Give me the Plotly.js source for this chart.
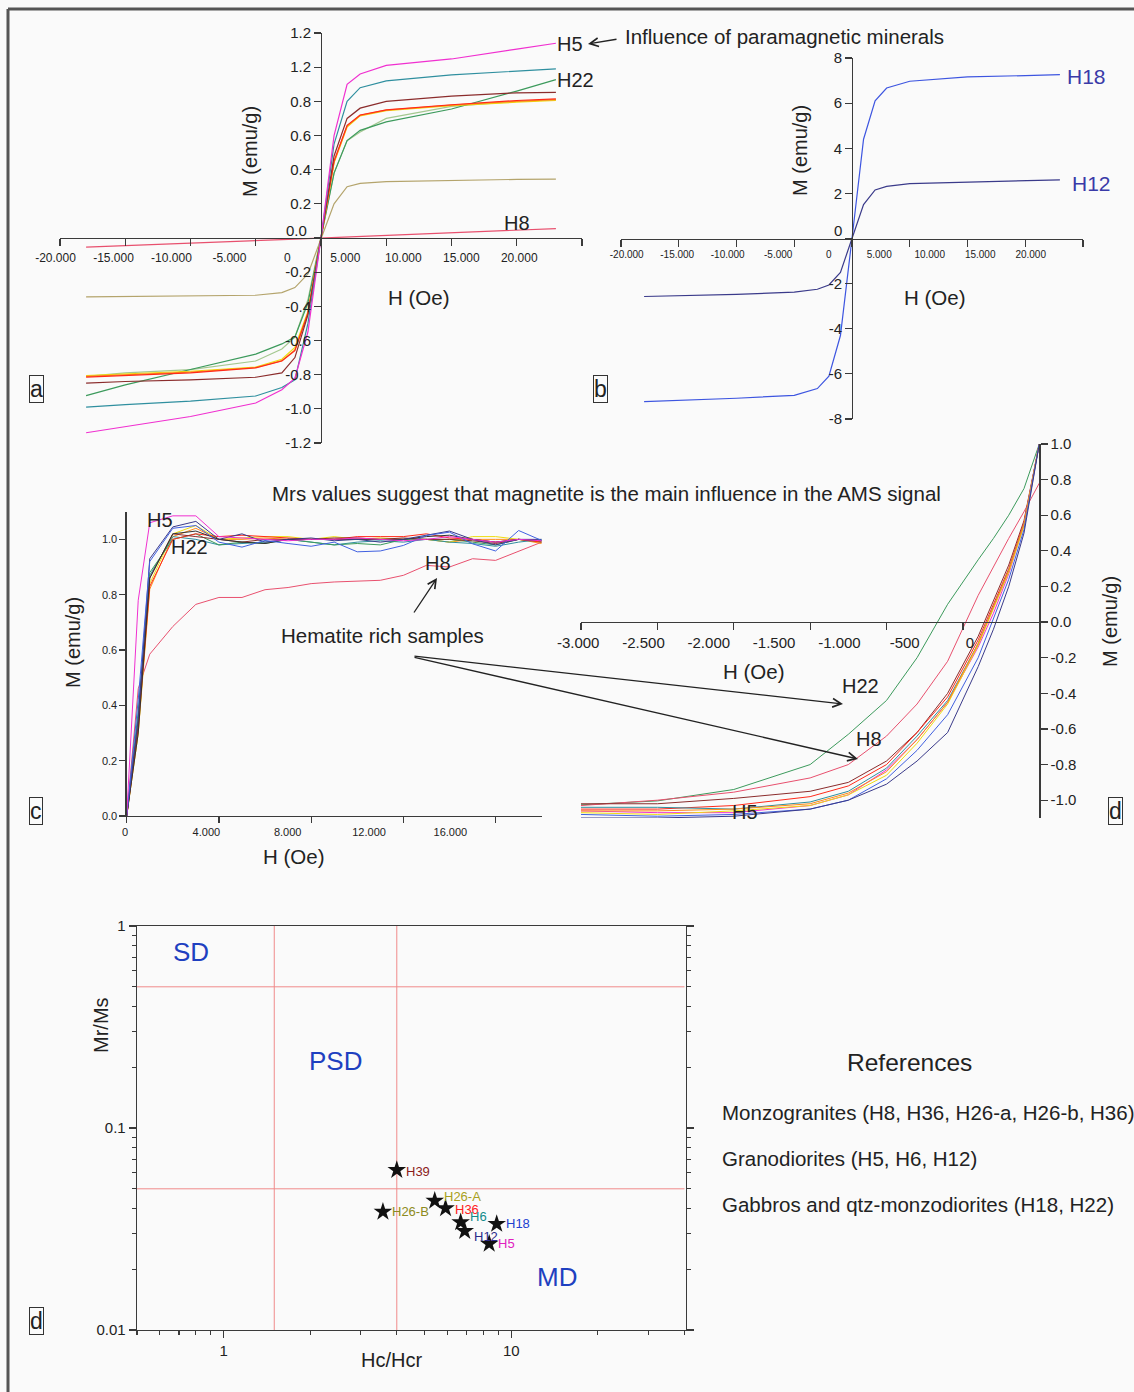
<!DOCTYPE html>
<html><head><meta charset="utf-8">
<script src="https://cdn.plot.ly/plotly-3.0.1.min.js"></script>
<style>html,body{margin:0;padding:0;background:#fafafa;}#chart{width:1134px;height:1392px;}</style>
</head><body><div id="chart"></div>
<script>
// ---------------- DATA ----------------
// Panel a: hysteresis loops (M emu/g vs H Oe)
const hA = [-18000,-15000,-10000,-5000,-3000,-2000,-1000,0,1000,2000,3000,5000,10000,15000,18000];
const aH5     = [-1.14,-1.105,-1.045,-0.966,-0.888,-0.82,-0.55,0,0.60,0.90,0.96,1.01,1.048,1.106,1.14];
const aTeal   = [-0.99,-0.975,-0.955,-0.925,-0.875,-0.83,-0.50,0,0.55,0.80,0.88,0.92,0.955,0.975,0.99];
const aBrown  = [-0.849,-0.84,-0.83,-0.815,-0.79,-0.70,-0.45,0,0.48,0.70,0.76,0.80,0.83,0.85,0.853];
const aRed    = [-0.814,-0.805,-0.79,-0.76,-0.72,-0.66,-0.44,0,0.45,0.66,0.72,0.75,0.78,0.805,0.814];
const aOrange = [-0.81,-0.80,-0.785,-0.758,-0.718,-0.655,-0.44,0,0.445,0.655,0.718,0.748,0.778,0.80,0.81];
const aYellow = [-0.805,-0.795,-0.78,-0.755,-0.71,-0.64,-0.43,0,0.44,0.65,0.715,0.745,0.775,0.795,0.805];
const aLtGreen= [-0.81,-0.79,-0.77,-0.72,-0.65,-0.58,-0.36,0,0.38,0.57,0.62,0.70,0.77,0.80,0.81];
const aH22    = [-0.923,-0.86,-0.77,-0.68,-0.62,-0.58,-0.38,0,0.38,0.57,0.63,0.68,0.755,0.86,0.927];
const aKhaki  = [-0.345,-0.343,-0.34,-0.335,-0.32,-0.29,-0.21,0,0.20,0.30,0.32,0.33,0.338,0.343,0.345];
const aH8     = [-0.053,-0.045,-0.03,-0.015,-0.009,-0.006,-0.003,0,0.003,0.006,0.009,0.015,0.03,0.046,0.055];
const xTicksA = [-20000,-15000,-10000,-5000,0,5000,10000,15000,20000];
const xLabelsA = ['-20.000','-15.000','-10.000','-5.000','0','5.000','10.000','15.000','20.000'];
const yTicksA = [1.2,1.0,0.8,0.6,0.4,0.2,0,-0.2,-0.4,-0.6,-0.8,-1.0,-1.2];
const yLabelsA = ['1.2','1.2','0.8','0.6','0.4','0.2','','-0.2','-0.4','-0.6','-0.8','-1.0','-1.2'];

// Panel b
const bH18 = [-7.23,-7.18,-7.08,-6.95,-6.65,-6.1,-4.3,0,4.4,6.1,6.67,6.97,7.16,7.22,7.26];
const bH12 = [-2.57,-2.54,-2.48,-2.38,-2.25,-2.06,-1.5,0,1.5,2.15,2.31,2.43,2.50,2.56,2.60];
const yTicksB = [8,6,4,2,0,-2,-4,-6,-8];
const yLabelsB = ['8','6','4','2','','-2','-4','-6','-8'];

// Panel c: normalised curves
const hC = [0,500,1000,2000,3000,4000,5000,6000,7000,8000,9000,10000,11000,12000,13000,14000,15000,16000,17000,18000];
const cH8    = [0,0.46,0.585,0.685,0.765,0.79,0.79,0.818,0.826,0.84,0.846,0.85,0.852,0.87,0.906,0.9,0.93,0.924,0.958,0.99];
const cBlue  = [0,0.42,0.92,1.04,1.05,0.99,0.972,0.996,0.985,0.975,0.99,0.955,0.958,0.978,1.014,1.026,0.984,0.958,1.032,0.996];
const cNavy  = [0,0.35,0.93,1.045,1.065,1.0,1.02,0.99,1.0,1.005,0.995,1.0,0.99,1.0,1.015,1.03,1.0,0.98,1.0,1.0];
const cBlack = [0,0.30,0.86,1.02,1.03,1.0,0.99,0.985,1.0,1.0,1.0,1.0,1.0,1.0,1.01,1.015,1.0,0.99,1.0,0.995];
const cRed   = [0,0.32,0.83,1.0,1.02,1.01,1.015,1.01,1.005,1.0,1.0,1.01,1.01,1.01,1.02,1.005,1.0,0.99,1.0,0.99];
const cGreen = [0,0.36,0.88,1.0,1.02,0.98,0.99,0.985,1.0,0.99,0.98,0.985,0.98,1.0,1.0,1.0,0.99,0.98,1.0,0.99];
const cTeal  = [0,0.38,0.87,1.01,1.0,0.98,0.985,0.99,1.0,0.99,0.98,0.99,0.995,0.99,1.0,0.99,0.985,0.975,0.99,1.0];
const cYellow= [0,0.30,0.84,1.02,1.05,1.0,1.005,1.01,1.01,1.0,1.01,1.0,1.005,1.0,1.0,0.99,1.01,1.01,1.0,0.99];
const cOrange= [0,0.30,0.82,1.01,1.04,1.0,1.0,1.005,1.0,1.0,1.0,1.0,1.0,1.0,1.0,0.99,1.0,1.0,1.0,0.985];
const cBrown = [0,0.33,0.86,1.02,1.01,1.0,0.99,1.0,1.0,1.0,1.005,1.005,1.0,1.005,1.0,1.0,0.995,0.985,1.0,0.995];
const cH5    = [0,0.78,1.06,1.085,1.085,1.01,1.005,1.0,0.995,1.0,1.0,1.005,1.0,0.995,1.0,1.01,1.0,0.99,1.0,0.995];
const xTicksC = [0,4000,8000,12000,16000];
const xLabelsC = ['0','4.000','8.000','12.000','16.000'];
const yTicksC = [0,0.2,0.4,0.6,0.8,1.0];
const yLabelsC = ['0.0','0.2','0.4','0.6','0.8','1.0'];

// Panel d: back-field curves
const hD = [-3000,-2500,-2000,-1500,-1250,-1000,-800,-600,-400,-300,-200,-100,0];
const dH22   = [-1.026,-1.004,-0.94,-0.80,-0.63,-0.44,-0.20,0.10,0.35,0.47,0.60,0.75,1.0];
const dH8    = [-1.03,-1.0,-0.955,-0.875,-0.80,-0.64,-0.46,-0.22,0.15,0.31,0.47,0.62,0.78];
const dBrown = [-1.02,-1.02,-0.99,-0.95,-0.90,-0.78,-0.62,-0.40,-0.08,0.12,0.32,0.57,1.0];
const dRed   = [-1.05,-1.05,-1.03,-0.98,-0.92,-0.80,-0.62,-0.42,-0.10,0.10,0.30,0.56,1.0];
const dH5    = [-1.06,-1.07,-1.07,-1.03,-0.97,-0.83,-0.66,-0.45,-0.14,0.05,0.27,0.55,1.0];
const dTeal  = [-1.04,-1.04,-1.05,-1.01,-0.95,-0.82,-0.64,-0.44,-0.12,0.08,0.29,0.55,1.0];
const dYellow= [-1.07,-1.08,-1.06,-1.03,-0.97,-0.86,-0.68,-0.46,-0.13,0.07,0.28,0.54,1.0];
const dOrange= [-1.06,-1.06,-1.05,-1.02,-0.96,-0.84,-0.66,-0.45,-0.12,0.08,0.29,0.55,1.0];
const dBlue  = [-1.08,-1.09,-1.08,-1.05,-1.0,-0.88,-0.72,-0.52,-0.20,0.02,0.24,0.52,1.0];
const dNavy  = [-1.10,-1.10,-1.09,-1.05,-1.0,-0.91,-0.78,-0.62,-0.25,-0.04,0.20,0.50,1.0];
const xTicksD = [-3000,-2500,-2000,-1500,-1000,-500,0];
const xLabelsD = ['-3.000','-2.500','-2.000','-1.500','-1.000','-500','0'];
const yTicksD = [1.0,0.8,0.6,0.4,0.2,0,-0.2,-0.4,-0.6,-0.8,-1.0];
const yLabelsD = ['1.0','0.8','0.6','0.4','0.2','0.0','-0.2','-0.4','-0.6','-0.8','-1.0'];

// Day plot
const dayNames = ['H39','H26-A','H26-B','H36','H6','H12','H18','H5'];
const dayHc = [4.0,5.42,3.58,5.91,6.67,6.89,8.9,8.38];
const dayMr = [0.0619,0.0436,0.0385,0.040,0.0341,0.0309,0.0335,0.0267];
const dayColors = ['#8b1a1a','#a8a020','#8c8a20','#ff2020','#108a8a','#2a2a8a','#2040d0','#e020c0'];
const dayLabelShift = [-1,4,0,-1,6,-5,0,0];
const dayXBounds = [1.5,4];
const dayYBounds = [0.5,0.05];
const dayXRange = [0.5,40];
const dayYRange = [0.01,1];

// ---------------- LAYOUT HELPERS ----------------
const W=1134, H=1392;
const FONT='Liberation Sans, Arial, Helvetica, sans-serif';
const INK='#222', AX='#3a3a3a';
const COL={H5:'#f030d0',teal:'#2f8f9f',brown:'#8b2c2c',red:'#ff2a1a',orange:'#ff8c1a',yellow:'#eedc10',
  ltgreen:'#a4c890',green:'#3c9a5c',khaki:'#b4a46c',H8:'#e8506e',blue:'#4060e0',navy:'#3a3a8a',black:'#333333'};
const domX=(a,b)=>[a/W,b/W];
const domY=(top,bot)=>[1-bot/H,1-top/H];
const at=(dom,range,v)=>dom[0]+(v-range[0])/(range[1]-range[0])*(dom[1]-dom[0]);

function dataAxis(extra){
  return Object.assign({showline:true,linecolor:AX,linewidth:1.3,ticks:'outside',ticklen:7,tickcolor:AX,tickwidth:1.2,
    showgrid:false,zeroline:false,fixedrange:true,tickfont:{family:FONT,size:15,color:INK}},extra);
}
function labelAxis(pxL,pxR,zeroPx,pxPerUnit,tickvals,ticktext,size,len,extra){
  return Object.assign({domain:domX(pxL,pxR),range:[(pxL-zeroPx)/pxPerUnit,(pxR-zeroPx)/pxPerUnit],
    tickmode:'array',tickvals:tickvals,ticktext:ticktext,ticks:'outside',ticklen:len,tickcolor:'rgba(0,0,0,0)',
    showline:false,showgrid:false,zeroline:false,fixedrange:true,tickfont:{family:FONT,size:size,color:INK}},extra);
}
function line(x,y,color,xa,ya,w){
  return {type:'scatter',mode:'lines',x:x,y:y,xaxis:xa,yaxis:ya,line:{color:color,width:w||1.1},
    showlegend:false,hoverinfo:'skip'};
}
function dummy(xa,ya){return {type:'scatter',mode:'markers',x:[],y:[],xaxis:xa,yaxis:ya,showlegend:false,hoverinfo:'skip'};}

// Panel geometry
const xDomA=domX(60,582), xRangeA=[-20000,20000], yDomA=domY(33,443), yRangeA=[-1.2,1.2];
const xDomB=domX(621,1083), xRangeB=[-20000,20000], yDomB=domY(58,419), yRangeB=[-8,8];
const xDomC=domX(126.7,541.7), xRangeC=[0,18000], yDomC=domY(511.7,816), yRangeC=[0,1.1];
const xDomD=domX(581,1045.7), xRangeD=[-3000,42], yDomD=domY(444,818), yRangeD=[-1.1,1.0];
const xDomE=domX(137,686), yDomE=domY(926,1330);

const posXA=at(yDomA,yRangeA,0), posYA=at(xDomA,xRangeA,0);
const posXB=at(yDomB,yRangeB,0), posYB=at(xDomB,xRangeB,0);
const posXD=at(yDomD,yRangeD,0), posYD=at(xDomD,xRangeD,0);

const traces=[];
// Panel a
[[aH8,COL.H8],[aKhaki,COL.khaki],[aLtGreen,COL.ltgreen],[aH22,COL.green],[aYellow,COL.yellow],[aOrange,COL.orange],
 [aRed,COL.red],[aBrown,COL.brown],[aTeal,COL.teal],[aH5,COL.H5]].forEach(s=>traces.push(line(hA,s[0],s[1],'x','y',1.2)));
traces.push(dummy('x2','y'));
// Panel b
traces.push(line(hA,bH12,COL.navy,'x3','y2',1.2));
traces.push(line(hA,bH18,'#3d55e0','x3','y2',1.2));
traces.push(dummy('x4','y2'));
// Panel c
[[cH8,COL.H8],[cOrange,COL.orange],[cYellow,COL.yellow],[cTeal,COL.teal],[cGreen,COL.green],[cRed,COL.red],
 [cBrown,COL.brown],[cBlack,COL.black],[cNavy,COL.navy],[cBlue,COL.blue],[cH5,COL.H5]].forEach(s=>traces.push(line(hC,s[0],s[1],'x5','y3',1)));
traces.push(dummy('x6','y3'));
// Panel d
[[dH22,COL.green],[dH8,COL.H8],[dBrown,COL.brown],[dRed,COL.red],[dH5,COL.H5],[dTeal,COL.teal],[dYellow,COL.yellow],
 [dOrange,COL.orange],[dBlue,COL.blue],[dNavy,COL.navy]].forEach(s=>traces.push(line(hD,s[0],s[1],'x7','y4',1)));
traces.push(dummy('x8','y4'));
// Day plot
dayXBounds.forEach(v=>traces.push(line([v,v],dayYRange,'#f08a8a','x9','y5',1)));
dayYBounds.forEach(v=>traces.push(line(dayXRange,[v,v],'#f08a8a','x9','y5',1)));
traces.push({type:'scatter',mode:'markers',x:dayHc,y:dayMr,marker:{symbol:'star',size:14,color:'#111'},
  xaxis:'x9',yaxis:'y5',showlegend:false,hoverinfo:'skip',cliponaxis:false});

// ---------------- ANNOTATIONS ----------------
const ann=[];
function txt(x,y,t,size,color,o){ann.push(Object.assign({xref:'paper',yref:'paper',x:x/W,y:1-y/H,text:t,showarrow:false,
  xanchor:'center',yanchor:'middle',font:{family:FONT,size:size,color:color||INK}},o||{}));}
function arrow(tx,ty,hx,hy){ann.push({xref:'paper',yref:'paper',x:hx/W,y:1-hy/H,ax:tx-hx,ay:ty-hy,text:'',showarrow:true,
  arrowhead:5,arrowsize:1.3,arrowwidth:1.3,arrowcolor:INK,standoff:0,startstandoff:0});}
function box(x,y,t){txt(x,y,t,23,INK,{bordercolor:'#333',borderwidth:1,borderpad:0});}

// star labels (log axes: annotation coords are log10 of data)
dayNames.forEach((n,i)=>ann.push({xref:'x9',yref:'y5',x:Math.log10(dayHc[i]),y:Math.log10(dayMr[i]),text:n,showarrow:false,
  xanchor:'left',yanchor:'middle',xshift:7,yshift:dayLabelShift[i],font:{family:FONT,size:13,color:dayColors[i]}}));

// panel a
txt(570,44,'H5',20); txt(575,80,'H22',20); txt(517,223,'H8',20);
txt(784,37,'Influence of paramagnetic minerals',20.5);
arrow(618,39,588,44);
txt(296,230,'0.0',15);
txt(250,152,'M (emu/g)',20,INK,{textangle:-90}); txt(419,297,'H (Oe)',20.5);
box(36,389,'a');
// panel b
txt(838,230,'0',15);
txt(1086,76,'H18',21,'#3a3aa8'); txt(1091,183,'H12',21,'#3a3aa8');
txt(800,151,'M (emu/g)',20,INK,{textangle:-90}); txt(935,297,'H (Oe)',20.5);
box(600,389,'b');
// middle
txt(606,493,'Mrs values suggest that magnetite is the main influence in the AMS signal',20.5);
txt(160,520,'H5',20); txt(189,547,'H22',20); txt(438,563,'H8',20);
arrow(413,614,437,578);
txt(382,635,'Hematite rich samples',20.5);
arrow(413,656,843,704); arrow(413,657,858,759);
txt(73,643,'M (emu/g)',20,INK,{textangle:-90}); txt(294,857,'H (Oe)',20.5);
box(36,811,'c');
txt(860,686,'H22',20); txt(869,739,'H8',20); txt(745,812,'H5',20);
txt(754,671,'H (Oe)',20.5); txt(1110,622,'M (emu/g)',20,INK,{textangle:-90});
box(1115,811,'d');
// day plot
txt(191,952,'SD',26,'#1e40c0'); txt(335,1061,'PSD',26,'#1e40c0'); txt(557,1277,'MD',26,'#1e40c0');
txt(101,1025,'Mr/Ms',20,INK,{textangle:-90}); txt(391,1360,'Hc/Hcr',20);
box(36,1321,'d');
txt(909,1062,'References',24.5);
txt(720,1112,'Monzogranites (H8, H36, H26-a, H26-b, H36)',20.5,INK,{xanchor:'left'});
txt(720,1158,'Granodiorites (H5, H6, H12)',20.5,INK,{xanchor:'left'});
txt(720,1204,'Gabbros and qtz-monzodiorites (H18, H22)',20.5,INK,{xanchor:'left'});

// ---------------- LAYOUT ----------------
const layout={
  width:W,height:H,autosize:false,margin:{l:0,r:0,t:0,b:0},
  paper_bgcolor:'#fafafa',plot_bgcolor:'rgba(0,0,0,0)',font:{family:FONT,color:INK},showlegend:false,
  // a
  xaxis:dataAxis({domain:xDomA,range:xRangeA,anchor:'free',position:posXA,tickmode:'array',tickvals:xTicksA,showticklabels:false}),
  yaxis:dataAxis({domain:yDomA,range:yRangeA,anchor:'free',position:posYA,tickmode:'array',tickvals:yTicksA,ticktext:yLabelsA}),
  xaxis2:labelAxis(20,600,287.4,57.97/5000,xTicksA,xLabelsA,12,9,{anchor:'free',position:posXA}),
  // b
  xaxis3:dataAxis({domain:xDomB,range:xRangeB,anchor:'free',position:posXB,tickmode:'array',tickvals:xTicksA,showticklabels:false}),
  yaxis2:dataAxis({domain:yDomB,range:yRangeB,anchor:'free',position:posYB,tickmode:'array',tickvals:yTicksB,ticktext:yLabelsB}),
  xaxis4:labelAxis(595,1105,828.7,50.5/5000,xTicksA,xLabelsA,10,6,{anchor:'free',position:posXB}),
  // c
  xaxis5:dataAxis({domain:xDomC,range:xRangeC,anchor:'y3',tickmode:'array',tickvals:xTicksC,showticklabels:false,ticklen:6}),
  yaxis3:dataAxis({domain:yDomC,range:yRangeC,anchor:'x5',tickmode:'array',tickvals:yTicksC,ticktext:yLabelsC,ticklen:6,tickfont:{family:FONT,size:11,color:INK}}),
  xaxis6:labelAxis(100,560,125,81.35/4000,xTicksC,xLabelsC,11,6,{anchor:'y3'}),
  // d
  xaxis7:dataAxis({domain:xDomD,range:xRangeD,anchor:'free',position:posXD,tickmode:'array',tickvals:xTicksD,showticklabels:false}),
  yaxis4:dataAxis({domain:yDomD,range:yRangeD,anchor:'free',position:posYD,side:'right',tickmode:'array',tickvals:yTicksD,ticktext:yLabelsD}),
  xaxis8:labelAxis(545,1010,970,65.3/500,xTicksD,xLabelsD,15,7,{anchor:'free',position:posXD}),
  // day plot
  xaxis9:dataAxis({domain:xDomE,type:'log',range:[Math.log10(dayXRange[0]),Math.log10(40.5)],anchor:'y5',dtick:1,mirror:true,
    tickfont:{family:FONT,size:15,color:INK},minor:{dtick:'D1',ticks:'outside',ticklen:4,tickcolor:AX,showgrid:false}}),
  yaxis5:dataAxis({domain:yDomE,type:'log',range:[Math.log10(dayYRange[0]),Math.log10(dayYRange[1])],anchor:'x9',dtick:1,mirror:'ticks',
    tickfont:{family:FONT,size:15,color:INK},minor:{dtick:'D1',ticks:'outside',ticklen:4,tickcolor:AX,showgrid:false}}),
  annotations:ann,
  shapes:[
    {type:'line',xref:'paper',yref:'paper',x0:8/W,x1:1,y0:1-9/H,y1:1-9/H,line:{color:'#555',width:3}},
    {type:'line',xref:'paper',yref:'paper',x0:8/W,x1:8/W,y0:0,y1:1-9/H,line:{color:'#555',width:3}}
  ]
};
Plotly.newPlot('chart',traces,layout,{staticPlot:true,displayModeBar:false});
</script></body></html>
